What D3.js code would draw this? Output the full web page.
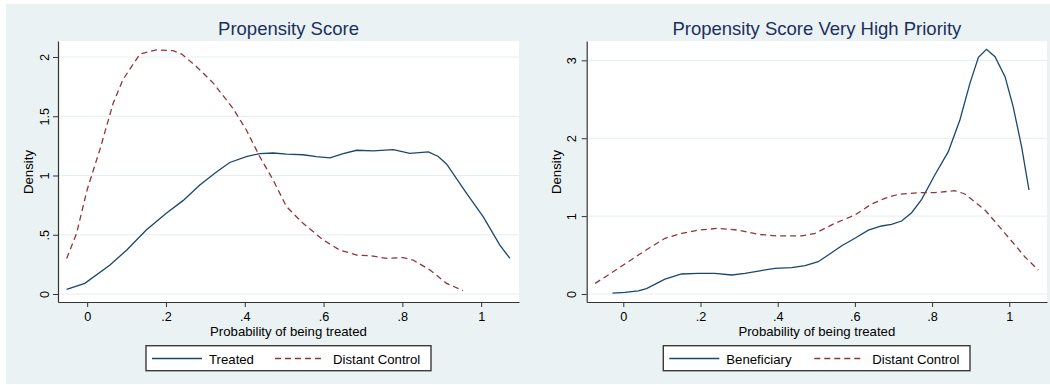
<!DOCTYPE html>
<html><head><meta charset="utf-8">
<script src="https://cdn.jsdelivr.net/npm/d3@7"></script>
<style>body{margin:0;background:#fff;}svg{display:block;font-family:"Liberation Sans",Arial,sans-serif;}</style>
</head><body><svg id="c" width="1050" height="385"></svg>
<script>
// ---- data ----
const xTicks = [0, 0.2, 0.4, 0.6, 0.8, 1];
const leftYTicks = [0, 0.5, 1, 1.5, 2];
const rightYTicks = [0, 1, 2, 3];
const leftTitle = "Propensity Score";
const rightTitle = "Propensity Score Very High Priority";
const xTitle = "Probability of being treated";
const yTitle = "Density";
const leftLegend = ["Treated", "Distant Control"];
const rightLegend = ["Beneficiary", "Distant Control"];

const leftTreated = [[-0.052,0.039],[-0.006,0.09],[0.058,0.245],[0.1,0.37],[0.15,0.54],[0.2,0.68],[0.244,0.79],[0.286,0.92],[0.328,1.03],[0.362,1.11],[0.404,1.16],[0.438,1.185],[0.472,1.19],[0.506,1.18],[0.548,1.175],[0.582,1.16],[0.616,1.148],[0.65,1.185],[0.684,1.213],[0.726,1.207],[0.777,1.218],[0.819,1.187],[0.866,1.2],[0.891,1.16],[0.912,1.097],[0.963,0.85],[1.005,0.653],[1.047,0.414],[1.073,0.3]];
const leftControl = [[-0.052,0.3],[-0.027,0.51],[0,0.88],[0.032,1.215],[0.066,1.61],[0.091,1.81],[0.134,2.025],[0.176,2.06],[0.218,2.053],[0.24,2.025],[0.277,1.92],[0.32,1.78],[0.37,1.567],[0.404,1.384],[0.438,1.159],[0.472,0.962],[0.506,0.737],[0.548,0.596],[0.599,0.456],[0.641,0.371],[0.684,0.329],[0.726,0.32],[0.76,0.3],[0.802,0.307],[0.827,0.287],[0.87,0.203],[0.912,0.09],[0.954,0.028]];
const rightBeneficiary = [[-0.028,0.01],[0.004,0.02],[0.039,0.04],[0.06,0.07],[0.108,0.19],[0.151,0.257],[0.194,0.265],[0.237,0.265],[0.281,0.244],[0.315,0.265],[0.35,0.295],[0.393,0.33],[0.436,0.338],[0.471,0.364],[0.505,0.415],[0.531,0.5],[0.566,0.62],[0.6,0.715],[0.635,0.82],[0.669,0.873],[0.695,0.894],[0.721,0.937],[0.747,1.044],[0.773,1.215],[0.807,1.528],[0.842,1.827],[0.872,2.234],[0.898,2.704],[0.92,3.038],[0.941,3.141],[0.963,3.047],[0.989,2.79],[1.01,2.405],[1.032,1.89],[1.051,1.335]];
const rightControl = [[-0.073,0.137],[-0.039,0.244],[0,0.372],[0.039,0.5],[0.073,0.608],[0.108,0.715],[0.151,0.779],[0.194,0.82],[0.246,0.843],[0.298,0.82],[0.35,0.766],[0.402,0.745],[0.462,0.745],[0.497,0.779],[0.548,0.907],[0.6,1.014],[0.643,1.155],[0.678,1.228],[0.712,1.279],[0.764,1.301],[0.807,1.301],[0.859,1.326],[0.885,1.284],[0.937,1.078],[0.989,0.779],[1.04,0.479],[1.075,0.308]];

const NAVY = "#1a476f", MAROON = "#90353b", BG = "#eaf2f3", TITLE = "#1c2f5e";
const fmt = v => { if (v === 0) return "0"; const s = String(v); return s.startsWith("0.") ? s.slice(1) : s; };

const svg = d3.select("#c");
svg.append("rect").attr("x", 6).attr("y", 4).attr("width", 1044).attr("height", 380).attr("fill", BG);

function panel(o) {
  const g = svg.append("g");
  const x = d3.scaleLinear().domain(o.xDom).range([o.left, o.right]);
  const y = d3.scaleLinear().domain(o.yDom).range([302, 41]);
  g.append("rect").attr("x", o.left).attr("y", 41).attr("width", o.right - o.left).attr("height", 261).attr("fill", "#fff");
  // gridlines
  g.selectAll("line.grid").data(o.yTicks).join("line")
    .attr("x1", o.left).attr("x2", o.right).attr("y1", d => y(d)).attr("y2", d => y(d))
    .attr("stroke", "#e5eef0").attr("stroke-width", 1);
  // axes
  const xa = g.append("g").attr("transform", "translate(0,302)")
    .call(d3.axisBottom(x).tickValues(xTicks).tickFormat(fmt).tickSize(5).tickSizeOuter(0));
  const ya = g.append("g").attr("transform", `translate(${o.left},0)`)
    .call(d3.axisLeft(y).tickValues(o.yTicks).tickFormat(fmt).tickSize(5).tickSizeOuter(0));
  [xa, ya].forEach(a => {
    a.select(".domain").attr("stroke", "#333").attr("stroke-width", 1.2);
    a.selectAll(".tick line").attr("stroke", "#333").attr("stroke-width", 1);
    a.selectAll("text").attr("font-size", 12.7).attr("font-family", "Liberation Sans, Arial, sans-serif").attr("fill", "#000");
  });
  xa.selectAll("text").attr("dy", null).attr("y", 18.5);
  ya.selectAll(".tick text").attr("x", null).attr("dy", null)
    .attr("text-anchor", "middle")
    .attr("transform", `translate(${o.yLabX - o.left},0) rotate(-90)`).attr("y", 0).attr("dy", "0.36em");
  // lines
  const line = d3.line().x(d => x(d[0])).y(d => y(d[1]));
  g.append("path").datum(o.s1).attr("d", line).attr("fill", "none").attr("stroke", NAVY).attr("stroke-width", 1.3);
  g.append("path").datum(o.s2).attr("d", line).attr("fill", "none").attr("stroke", MAROON).attr("stroke-width", 1.3).attr("stroke-dasharray", "6,4");
  // titles
  const cx = (o.left + o.right) / 2;
  g.append("text").attr("x", cx).attr("y", 35).attr("text-anchor", "middle").attr("font-size", 18.5).attr("fill", TITLE).text(o.title);
  g.append("text").attr("x", cx).attr("y", 336).attr("text-anchor", "middle").attr("font-size", 13.2).attr("fill", "#000").text(xTitle);
  g.append("text").attr("transform", `translate(${o.yTitX},172) rotate(-90)`).attr("text-anchor", "middle").attr("dy", "0.36em").attr("font-size", 13.2).attr("fill", "#000").text(yTitle);
  // legend
  const L = o.leg;
  g.append("rect").attr("x", L.x0).attr("y", 345.7).attr("width", L.x1 - L.x0).attr("height", 25).attr("fill", "#fff").attr("stroke", "#3a3a3a").attr("stroke-width", 1.4);
  g.append("line").attr("x1", L.s1).attr("x2", L.s1 + 50).attr("y1", 358.5).attr("y2", 358.5).attr("stroke", NAVY).attr("stroke-width", 1.3);
  g.append("text").attr("x", L.s1 + 57).attr("y", 364).attr("font-size", 13.2).text(o.labels[0]);
  g.append("line").attr("x1", L.s2).attr("x2", L.s2 + 50).attr("y1", 358.5).attr("y2", 358.5).attr("stroke", MAROON).attr("stroke-width", 1.3).attr("stroke-dasharray", "6,4");
  g.append("text").attr("x", L.s2 + 58).attr("y", 364).attr("font-size", 13.2).text(o.labels[1]);
}

panel({ left: 58, right: 519, xDom: [-0.074, 1.096], yDom: [-0.0675, 2.135], yTicks: leftYTicks,
  s1: leftTreated, s2: leftControl, title: leftTitle, labels: leftLegend, yLabX: 44, yTitX: 28.5,
  leg: { x0: 146, x1: 431, s1: 152, s2: 275 } });
panel({ left: 586.7, right: 1047, xDom: [-0.0948, 1.0977], yDom: [-0.1027, 3.248], yTicks: rightYTicks,
  s1: rightBeneficiary, s2: rightControl, title: rightTitle, labels: rightLegend, yLabX: 571.3, yTitX: 556.7,
  leg: { x0: 663.3, x1: 970, s1: 669.3, s2: 814.3 } });
</script></body></html>
